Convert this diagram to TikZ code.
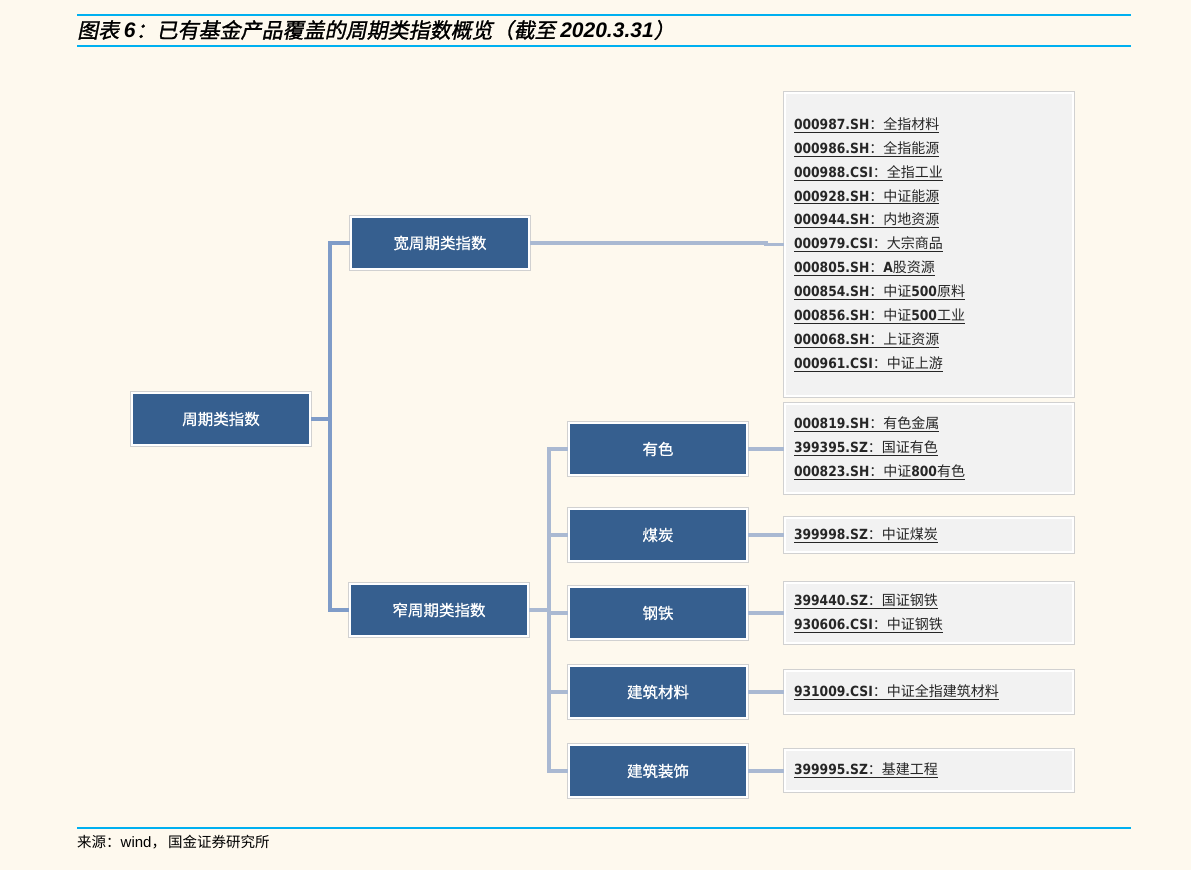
\documentclass[tikz,border=0pt]{standalone}
\usepackage{fontspec}
\setmainfont{Liberation Sans}
\newfontfamily\cjk{Noto Sans CJK SC}
\newfontfamily\cjkb[FakeBold=0.8]{Noto Sans CJK SC}
\newfontfamily\cjkit[FakeSlant=0.2,FakeBold=1.2]{Noto Sans CJK SC}
\newfontfamily\latit{Liberation Sans}
\newfontfamily\codef[FakeStretch=0.88]{DejaVu Sans}
\definecolor{bgc}{HTML}{FEF9EE}
\definecolor{rulec}{HTML}{00B0F0}
\definecolor{boxblue}{HTML}{365F8F}
\definecolor{listgray}{HTML}{F2F2F2}
\definecolor{treeA}{HTML}{7F9CC8}
\definecolor{treeB}{HTML}{AAB9D2}
\newcommand\ent[2]{\underline{{\codef\bfseries #1}{\cjk ：#2}}}
\newcommand\cd[1]{{\codef\bfseries #1}}
\begin{document}
\begin{tikzpicture}[x=1pt,y=-1pt,
  mainbox/.style={rectangle, fill=boxblue, draw=white, line width=2.5pt,
    preaction={draw=black!18, line width=4pt},
    minimum width=178pt, minimum height=52pt, inner sep=0pt,
    text=white, font=\cjkb\fontsize{15.5}{18}\selectfont},
  listbox/.style={rectangle, fill=listgray, draw=white, line width=2.5pt,
    preaction={draw=black!18, line width=4pt},
    minimum width=288pt, text width=270pt, inner xsep=9pt, inner ysep=0pt,
    align=left, text=black!85, font=\fontsize{14}{23.9}\selectfont},
  treeline/.style={draw=treeA, line width=3.5pt},
  leafline/.style={draw=treeB, line width=3.5pt},
  titlerule/.style={draw=rulec, line width=2.2pt}]
\fill[bgc] (0,0) rectangle (1191,870);
\useasboundingbox (0,0) rectangle (1191,870);

% title and rules
\draw[titlerule] (77,15) -- (1131,15);
\draw[titlerule] (77,46) -- (1131,46);
\node[anchor=west, inner sep=0pt, font=\fontsize{21}{24}\selectfont] (title) at (77,30)
  {{\cjkit 图表 }{\latit\bfseries\itshape 6}{\cjkit ：已有基金产品覆盖的周期类指数概览（截至 }{\latit\bfseries\itshape 2020.3.31}{\cjkit ）}};
\draw[titlerule] (77,828) -- (1131,828);
\node[anchor=west, inner sep=0pt, font=\cjk\fontsize{14.5}{16}\selectfont] (src) at (77,842)
  {来源：{\rmfamily\fontsize{15}{16}\selectfont wind}，\hspace{2pt}国金证券研究所};

% main boxes
\node[mainbox] (root) at (221,419) {周期类指数};
\node[mainbox] (wide) at (440,243) {宽周期类指数};
\node[mainbox] (narrow) at (439,610) {窄周期类指数};
\node[mainbox] (ys) at (658,449) {有色};
\node[mainbox] (mt) at (658,535) {煤炭};
\node[mainbox] (gt) at (658,613) {钢铁};
\node[mainbox] (jc) at (658,692) {建筑材料};
\node[mainbox] (jz) at (658,771) {建筑装饰};

% list boxes
\node[listbox, minimum height=303pt] (bigl) at (929,244.5) {%
\ent{000987.SH}{全指材料}\\
\ent{000986.SH}{全指能源}\\
\ent{000988.CSI}{全指工业}\\
\ent{000928.SH}{中证能源}\\
\ent{000944.SH}{内地资源}\\
\ent{000979.CSI}{大宗商品}\\
\ent{000805.SH}{\cd{A}股资源}\\
\ent{000854.SH}{中证\cd{500}原料}\\
\ent{000856.SH}{中证\cd{500}工业}\\
\ent{000068.SH}{上证资源}\\
\ent{000961.CSI}{中证上游}};
\node[listbox, minimum height=89pt] (ysl) at (929,448.5) {%
\ent{000819.SH}{有色金属}\\
\ent{399395.SZ}{国证有色}\\
\ent{000823.SH}{中证\cd{800}有色}};
\node[listbox, minimum height=34pt] (mtl) at (929,535) {\ent{399998.SZ}{中证煤炭}};
\node[listbox, minimum height=60pt] (gtl) at (929,613) {%
\ent{399440.SZ}{国证钢铁}\\
\ent{930606.CSI}{中证钢铁}};
\node[listbox, minimum height=42pt] (jcl) at (929,692) {\ent{931009.CSI}{中证全指建筑材料}};
\node[listbox, minimum height=41pt] (jzl) at (929,770.5) {\ent{399995.SZ}{基建工程}};

% connectors
\coordinate (j1) at (330,419);
\coordinate (j2) at (549,610);
\coordinate (k1) at (766,243);
\draw[treeline] (root.east) -- (j1);
\draw[treeline] (j1) |- (wide.west);
\draw[treeline] (j1) |- (narrow.west);
\draw[leafline] (narrow.east) -- (j2);
\draw[leafline] (j2) |- (ys.west);
\draw[leafline] (j2) |- (mt.west);
\draw[leafline] (j2) |- (gt.west);
\draw[leafline] (j2) |- (jc.west);
\draw[leafline] (j2) |- (jz.west);
\draw[leafline] (wide.east) -- (k1) |- (bigl.west);
\draw[leafline] (ys.east) -- (ys.east -| ysl.west);
\draw[leafline] (mt.east) -- (mt.east -| mtl.west);
\draw[leafline] (gt.east) -- (gt.east -| gtl.west);
\draw[leafline] (jc.east) -- (jc.east -| jcl.west);
\draw[leafline] (jz.east) -- (jz.east -| jzl.west);
\end{tikzpicture}
\end{document}
